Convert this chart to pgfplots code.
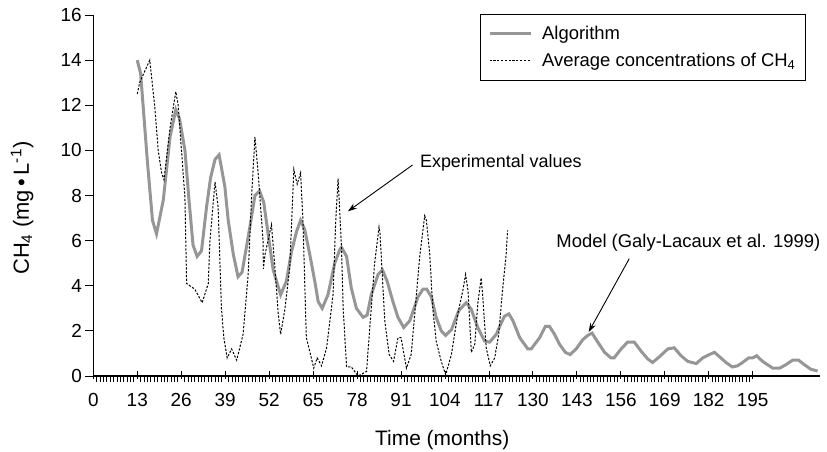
\documentclass[border=0pt]{standalone}
\usepackage{pgfplots}
\pgfplotsset{compat=1.18}
\usepackage{fontspec}
\setmainfont{Liberation Sans}
\usetikzlibrary{arrows.meta}
\definecolor{algo}{RGB}{150,150,150}

\pgfplotstableread{
m v
13 14.0
14 13.4
16 9.5
17.5 6.9
18.7 6.3
20.7 7.8
22.7 10.6
24.4 11.8
25.5 11.4
27.1 10.0
28.3 7.8
29.5 5.8
30.7 5.3
32 5.55
33.5 7.5
34.7 8.8
36 9.6
37.2 9.8
38.9 8.4
39.9 6.9
41.4 5.4
42.8 4.4
44 4.6
46.3 6.6
47.8 8.0
49.2 8.2
50.4 7.7
51.7 6.3
53.2 4.7
55.4 3.6
57.1 4.2
58.6 5.5
60.1 6.4
61.3 6.9
62.5 6.5
64 5.4
65.5 4.2
66.5 3.3
67.7 3.0
69.4 3.6
71.4 5.0
72.9 5.6
73.4 5.7
74.9 5.3
76.3 3.9
77.8 3.0
79.8 2.6
81 2.7
82.2 3.6
84.2 4.5
85.5 4.7
86.9 4.2
88.6 3.3
90.1 2.6
91.8 2.15
93.6 2.45
96 3.5
97.5 3.85
98.6 3.85
100 3.5
101.4 2.6
102.9 2.0
104.2 1.8
105.9 2.05
108.1 2.9
110.3 3.25
111.8 2.95
113.7 2.15
115.7 1.55
117.2 1.5
119.2 1.85
120.2 2.2
121.6 2.65
122.9 2.75
124.1 2.45
126.1 1.7
128.5 1.2
129.5 1.2
132 1.7
133.7 2.2
134.9 2.2
136.4 1.85
137.9 1.4
139.6 1.05
141 0.95
142.8 1.2
144.7 1.6
146.2 1.8
147.5 1.9
149.2 1.5
151.2 1.05
153.1 0.8
154 0.8
156.1 1.2
158 1.5
160 1.5
162 1.1
164 0.75
165.4 0.6
167.4 0.85
169.9 1.2
171.8 1.25
173.8 0.9
175.8 0.65
178.3 0.55
180.2 0.8
182.2 0.95
183.7 1.05
185.6 0.8
187.1 0.6
189 0.4
190.5 0.45
192 0.6
193.8 0.8
195 0.8
196.2 0.9
197.9 0.65
199.9 0.45
200.9 0.35
203 0.35
204.8 0.5
206.8 0.7
208.6 0.7
210.3 0.5
212.2 0.3
214.2 0.22
}\algodata

\pgfplotstableread{
m v
13 12.5
13.7 13.0
16.7 14.0
18.2 11.9
19.2 10.0
20.2 9.0
20.9 8.7
22.7 11.0
24.4 12.6
25.1 12.0
27.1 7.9
27.6 4.1
30 3.85
32.2 3.25
34 4.1
34.5 6.0
36 8.6
36.9 7.5
37.9 3.0
38.6 1.7
39.6 0.8
40.9 1.2
42.4 0.7
44.3 1.85
45.8 4.5
46.8 7.9
47.8 10.6
48.7 9.1
50.2 6.0
50.3 4.75
50.8 5.4
52.7 6.7
53.7 4.8
54.7 2.75
55.4 1.85
56.6 2.9
58.1 4.8
59.3 9.15
60.3 8.5
61.3 9.0
62 6.9
63 1.7
64 1.1
65.2 0.35
66.2 0.8
67.5 0.45
69 1.25
70.9 3.6
71.7 6.9
72.4 8.75
73.4 5.7
73.9 3.0
74.9 0.4
76.3 0.4
78.3 0.0
80.8 0.2
82.2 3.0
83.2 5.0
84.5 6.6
84.8 6.3
86.2 2.45
87.5 0.95
88.8 0.65
90.1 1.7
91 1.7
92.6 0.35
94 0.95
95.5 3.5
96.5 5.25
98 7.1
98.5 6.9
99.5 5.4
100.4 3.0
101.4 1.55
102.9 0.65
104.2 0.05
105.9 0.95
107.8 2.75
109.3 3.8
110.1 4.5
110.8 3.8
111.3 2.45
111.8 1.05
112.8 1.4
113.7 3.2
114.7 4.35
115.2 3.5
116.2 1.25
117.4 0.45
118.7 0.8
119.9 1.85
120.9 3.6
122.1 5.4
122.5 6.45
}\expdata

\begin{document}
\begin{tikzpicture}
\useasboundingbox (-93.3bp,-76bp) rectangle (733.7bp,376bp);
\begin{axis}[
  at={(0,0)}, anchor=south west,
  scale only axis, width=727bp, height=361bp,
  xmin=0, xmax=215, ymin=0, ymax=16,
  axis lines=left, axis line style={line width=1.2bp, -},
  xtick={0,13,...,195}, minor x tick num=12,
  ytick={0,2,...,16},
  tick style={black, line width=0.8bp},
  xtick align=outside, ytick align=outside,
  major tick length=8bp, minor tick length=6bp,
  major x tick style={yshift=5bp},
  /pgf/number format/assume math mode=true,
  tick label style={font=\fontsize{19}{22}\selectfont},
  xticklabel style={yshift=-6bp},
  xlabel={Time (months)},
  xlabel style={font=\fontsize{21}{24}\selectfont, at={(axis description cs:0.48,-0.177)}, anchor=center},
  ylabel={CH\textsubscript{4} (mg\,•\,L\textsuperscript{-1})},
  ylabel style={font=\fontsize{22}{25}\selectfont, at={(axis description cs:-0.098,0.465)}, anchor=center},
  clip=false,
  legend style={at={(axis description cs:0.980,1.003)}, anchor=north east,
    draw=black, line width=0.8bp, font=\fontsize{18.5}{21}\selectfont,
    row sep=8bp, inner xsep=8bp, inner ysep=10bp},
  legend cell align=left,
  legend image code/.code={\draw[#1] (0bp,0bp) -- (41bp,0bp); \path (49bp,0bp);},
]
\addplot[algo, line width=3bp] table[x=m, y=v] {\algodata};
\addlegendentry{Algorithm}
\addplot[black, line width=1bp, dash pattern=on 2.2bp off 1.6bp] table[x=m, y=v] {\expdata};
\addlegendentry{Average concentrations of CH\textsubscript{4}}

\node[anchor=west, font=\fontsize{18}{21}\selectfont] at (axis cs:95.6,9.44) {Experimental values};
\draw[line width=0.9bp, -{Stealth[length=9bp, width=6bp]}] (axis cs:94.4,9.35) -- (axis cs:75.3,7.3);
\node[anchor=center, font=\fontsize{18.5}{21}\selectfont] at (axis cs:176,5.9) {Model (Galy-Lacaux et al. 1999)};
\draw[line width=0.9bp, -{Stealth[length=9bp, width=6bp]}] (axis cs:158.5,5.2) -- (axis cs:146.5,1.95);
\end{axis}
\end{tikzpicture}
\end{document}
